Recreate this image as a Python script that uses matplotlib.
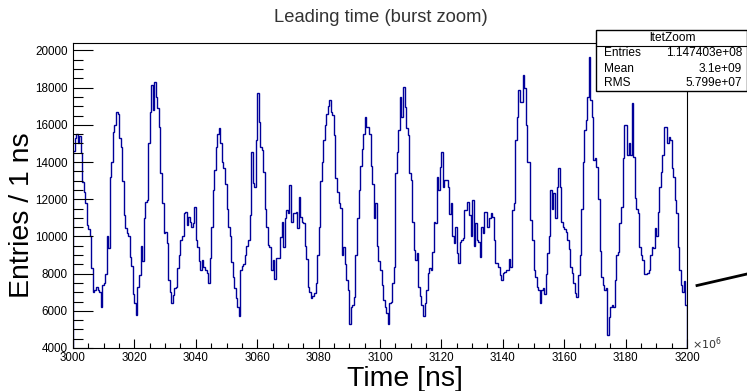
import numpy as np
import matplotlib.pyplot as plt
from matplotlib.patches import Rectangle
from matplotlib.lines import Line2D

plt.rcParams['font.family'] = ['Liberation Sans', 'DejaVu Sans']

# time axis in units of 1e6 ns, half-unit bins
t_lo = 3000
t_hi = 3200
bin_w = 0.5

# entries per bin (3000 - 3048)
counts_a = [
    14600, 15300, 15500, 15000, 15400, 14500, 12900, 12400, 11800, 10600,
    10400, 10000, 8300, 7000, 7100, 7300, 7100, 7000, 6200, 7400,
    7500, 8000, 10000, 9400, 13200, 14000, 15600, 16000, 16700, 16600,
    15300, 14800, 13000, 11150, 10430, 10200, 10000, 8900, 8400, 6900,
    6400, 5800, 7300, 7900, 9500, 8700, 11000, 11870, 11960, 15000,
    16700, 18140, 16790, 18320, 17500, 16900, 15900, 13390, 11780, 10160,
    10250, 9630, 7660, 7000, 6400, 6850, 7210, 7300, 8280, 9000,
    9810, 10000, 11240, 11330, 10610, 11060, 10790, 10520, 10700, 11600,
    9810, 9450, 8700, 8190, 8730, 8370, 8190, 8010, 7480, 8820,
    10520, 12500, 13570, 14820, 15500, 15810,
]
# 3048 - 3096
counts_b = [
    15000, 14000, 13660, 12800, 11500, 10500, 10000, 8600, 7800, 7200,
    6670, 6220, 5700, 8190, 8400, 8500, 9000, 9500, 9810, 11150,
    14550, 12850, 12670, 15200, 17690, 16170, 14800, 14640, 13480, 11500,
    10500, 9540, 9450, 8200, 8730, 7700, 8820, 8820, 8820, 9990,
    10790, 9450, 11000, 11420, 11240, 12760, 10790, 11240, 11240, 11330,
    10430, 12140, 11060, 10790, 10700, 9500, 8800, 7300, 7000, 6700,
    6800, 6940, 7480, 9000, 10520, 13000, 14000, 15200, 16000, 16600,
    17000, 17330, 16700, 16530, 15450, 13120, 12400, 11780, 11510, 9000,
    9450, 8500, 7660, 7120, 5300, 6220, 6310, 6760, 9000, 11000,
    12500, 13800, 14700, 15500, 16440, 15900,
]
# 3096 - 3148.5
counts_c = [
    15900, 15500, 13800, 12800, 11000, 11780, 9500, 8700, 8200, 7400,
    6600, 6200, 5900, 5300, 6400, 6500, 7480, 8370, 13390, 14550,
    15720, 17510, 16440, 18050, 16970, 15810, 15450, 13400, 13030, 10800,
    9270, 8730, 9090, 7300, 6800, 6300, 5700, 6400, 7120, 8010,
    8280, 8200, 9180, 10790, 10700, 13210, 12500, 13750, 14550, 12670,
    13030, 13030, 12670, 11200, 11780, 10000, 9630, 10500, 9090, 8550,
    9720, 9810, 9900, 11400, 11400, 11870, 11150, 10000, 11960, 9500,
    10700, 9810, 9700, 8910, 10520, 10200, 11330, 11330, 10500, 11000,
    11240, 11060, 9800, 8550, 8550, 8370, 7900, 7660, 8010, 8100,
    8190, 8190, 8800, 8370, 11420, 11780, 15180, 16440, 17870, 17240,
    17240, 18680, 18000, 15990, 14020,
]
# 3148.5 - 3200
counts_d = [
    14020, 10880, 9810, 8190, 7830, 7300, 7120, 6400, 7120, 7210,
    6900, 8000, 9090, 10000, 12500, 11500, 12320, 11000, 12670, 13660,
    12670, 10790, 10520, 10400, 10250, 9810, 9300, 8370, 8010, 7480,
    6940, 6760, 7930, 9000, 11500, 14000, 15720, 16260, 17500, 19660,
    17330, 16440, 14100, 14190, 13750, 12000, 9200, 7800, 7390, 7120,
    7210, 4700, 5680, 6220, 6310, 6220, 7660, 9000, 9180, 10700,
    11600, 14190, 15990, 15990, 14370, 15000, 14370, 17150, 14280, 12050,
    11500, 11240, 9450, 9000, 8730, 8000, 8000, 8010, 8190, 9000,
    9450, 9360, 10430, 10000, 11330, 12670, 13480, 14370, 15900, 15900,
    15000, 15360, 15180, 13700, 13210, 11960, 11240, 9450, 8190, 7400,
    7000, 7600, 6300,
]
counts = counts_a + counts_b + counts_c + counts_d

stat_name = 'ltetZoom'
stat_rows = [('Entries', '1.147403e+08'), ('Mean', '3.1e+09'), ('RMS', '5.799e+07')]

W, H = 747, 391
fig = plt.figure(figsize=(W / 100, H / 100), dpi=100)
ax = fig.add_axes([73 / W, 1 - 348 / H, (687 - 73) / W, (348 - 43) / H])

edges = t_lo + bin_w * np.arange(len(counts) + 1)
ax.stairs(counts, edges, color='#000099', linewidth=1.0)

ax.set_xlim(t_lo, t_hi)
ax.set_ylim(4000, 20400)
ax.set_xticks(np.arange(3000, 3201, 20))
ax.set_xticks(np.arange(3000, 3201, 5), minor=True)
ax.set_yticks(np.arange(4000, 20001, 2000))
ax.set_yticks(np.arange(4000, 20401, 500), minor=True)
ax.tick_params(axis='x', which='major', direction='in', length=6.5, width=0.8, pad=3, labelsize=8.3)
ax.tick_params(axis='x', which='minor', direction='in', length=3.6, width=0.8)
ax.tick_params(axis='y', which='major', direction='in', length=14.4, width=0.8, pad=4, labelsize=8.4)
ax.tick_params(axis='y', which='minor', direction='in', length=7.2, width=0.8)
for s in ax.spines.values():
    s.set_linewidth(0.8)

fig.text(692 / W, 1 - 349 / H, r'$\times10^{6}$', fontsize=8, color='#333333', ha='left', va='baseline')

fig.text(22 / W, 1 - 215 / H, 'Entries / 1 ns', fontsize=20.5, rotation=90, ha='center', va='center')
fig.text(405 / W, 1 - 386 / H, 'Time [ns]', fontsize=20.5, ha='center', va='baseline')
fig.text(381 / W, 1 - 17 / H, 'Leading time (burst zoom)', fontsize=13.2, color='#333333', ha='center', va='center')

# stats box
bx0, bx1, by0, by1, bdiv = 596, 746.5, 30, 90.7, 46
fig.add_artist(Rectangle((bx0 / W, 1 - by1 / H), (bx1 - bx0) / W, (by1 - by0) / H,
                         transform=fig.transFigure, facecolor='white', edgecolor='black',
                         linewidth=1.0, zorder=5))
fig.add_artist(Line2D([bx0 / W, bx1 / W], [1 - bdiv / H, 1 - bdiv / H],
                      transform=fig.transFigure, color='black', linewidth=0.8, zorder=6))
fig.text(672 / W, 1 - 38 / H, stat_name, fontsize=8.6, ha='center', va='center', zorder=7)
for i, (k, v) in enumerate(stat_rows):
    yy = 1 - (53.5 + i * 15) / H
    fig.text(604 / W, yy, k, fontsize=8.6, ha='left', va='center', zorder=7)
    fig.text(742 / W, yy, v, fontsize=8.6, ha='right', va='center', zorder=7)

# pointer line going off the right edge
fig.add_artist(Line2D([697 / W, 747 / W], [1 - 285.5 / H, 1 - 274 / H],
                      transform=fig.transFigure, color='black', linewidth=2.0))

fig.savefig('out.png', dpi=100)
